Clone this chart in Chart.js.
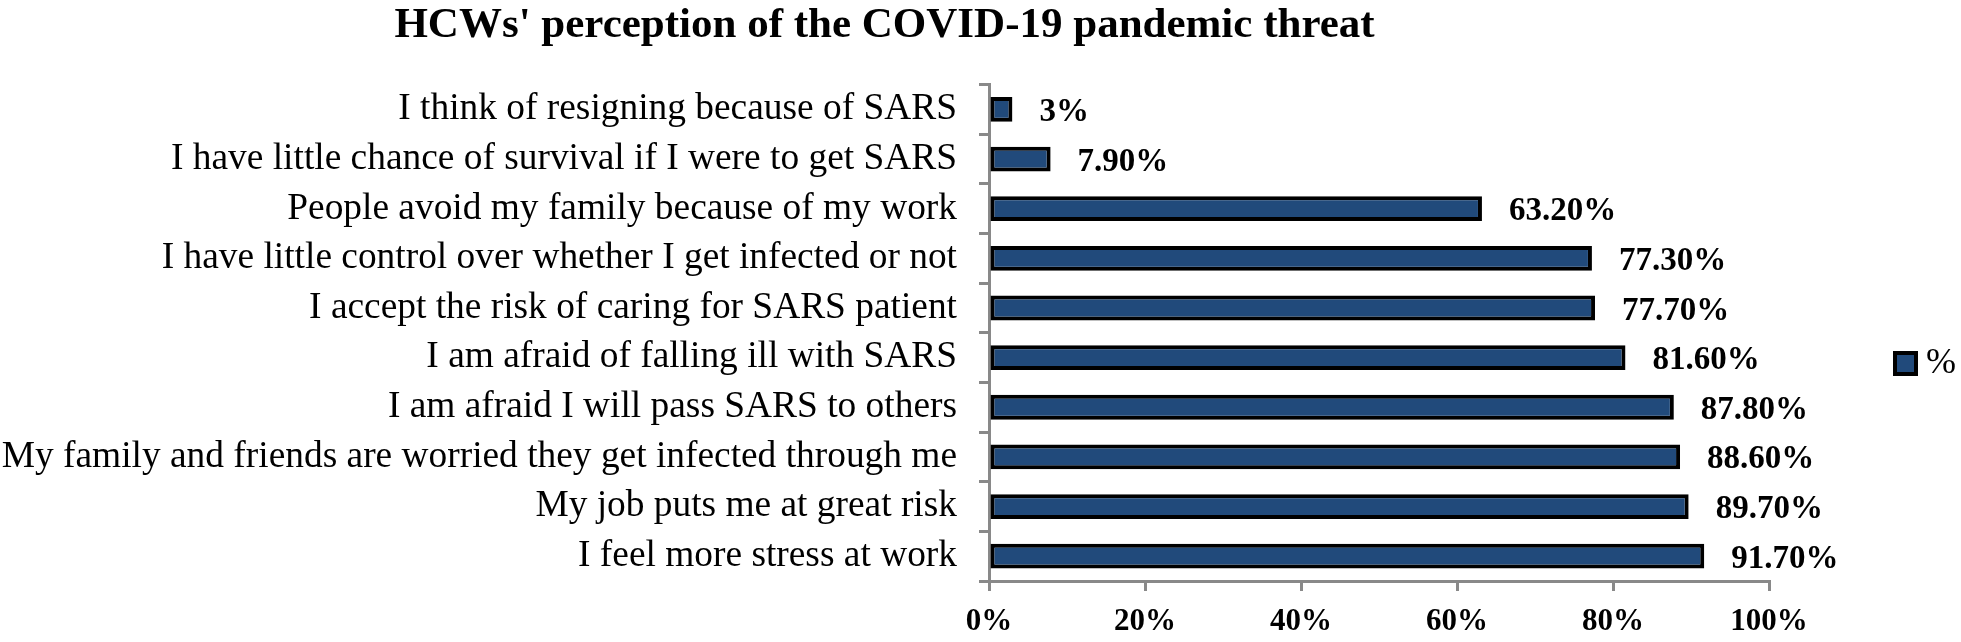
<!DOCTYPE html>
<html>
<head>
<meta charset="utf-8">
<script src="https://cdn.jsdelivr.net/npm/chart.js@4/dist/chart.umd.min.js"></script>
<style>
html,body{margin:0;padding:0;background:#fff;}
#wrap{width:1961px;height:642px;}
</style>
</head>
<body>
<div id="wrap"><canvas id="threatChart"></canvas></div>
<script>
// data
var categories = [
"I think of resigning because of SARS",
"I have little chance of survival if I were to get SARS",
"People avoid my family because of my work",
"I have little control over whether I get infected or not",
"I accept the risk of caring for SARS patient",
"I am afraid of falling ill with SARS",
"I am afraid I will pass SARS to others",
"My family and friends are worried they get infected through me",
"My job puts me at great risk",
"I feel more stress at work"
];
var percentValues = [3, 7.9, 63.2, 77.3, 77.7, 81.6, 87.8, 88.6, 89.7, 91.7];
var valueLabels = ["3%", "7.90%", "63.20%", "77.30%", "77.70%", "81.60%", "87.80%", "88.60%", "89.70%", "91.70%"];
var xTicks = [0, 20, 40, 60, 80, 100];
var seriesName = "%";

var serif = "'Liberation Serif', 'Times New Roman', serif";
var barBlue = "#214a7b";
var axisGray = "#898989";

// value labels to the right of each bar
var valueLabelPlugin = {
id: "valueLabels",
afterDatasetsDraw: function(chart) {
var ctx = chart.ctx;
var meta = chart.getDatasetMeta(0);
ctx.save();
ctx.font = "bold 33px " + serif;
ctx.fillStyle = "#000";
ctx.textAlign = "left";
ctx.textBaseline = "middle";
meta.data.forEach(function(bar, i) {
ctx.fillText(valueLabels[i], bar.x + 27, bar.y + 3);
});
ctx.restore();
}
};

// legend on the right, like the original
var sideLegendPlugin = {
id: "sideLegend",
afterDraw: function(chart) {
var ctx = chart.ctx;
ctx.save();
ctx.fillStyle = "#000";
ctx.fillRect(1893, 351, 25, 25);
ctx.fillStyle = barBlue;
ctx.fillRect(1897, 355, 17, 17);
ctx.font = "36px " + serif;
ctx.fillStyle = "#000";
ctx.textBaseline = "middle";
ctx.fillText(seriesName, 1926, 364);
ctx.restore();
}
};

new Chart(
document.getElementById("threatChart"),
{
type: "bar",
data: {
labels: categories,
datasets: [{
label: seriesName,
data: percentValues,
backgroundColor: barBlue,
borderColor: "#000",
borderWidth: 4,
borderSkipped: false,
categoryPercentage: 1,
barPercentage: 0.5
}]
},
options: {
indexAxis: "y",
responsive: true,
maintainAspectRatio: false,
animation: false,
layout: { padding: { left: 0, right: 192, top: 0, bottom: 0 } },
plugins: {
legend: { display: false },
tooltip: { enabled: false },
title: {
display: true,
text: "HCWs' perception of the COVID-19 pandemic threat",
color: "#000",
font: { family: serif, size: 43, weight: "bold" },
padding: { top: 0, bottom: 33 }
}
},
scales: {
x: {
min: 0,
max: 100,
afterBuildTicks: function(scale) {
scale.ticks = xTicks.map(function(v) { return { value: v }; });
},
afterFit: function(scale) { scale.height = 61; },
grid: {
drawOnChartArea: false,
drawTicks: true,
tickLength: 10,
color: axisGray,
lineWidth: 3
},
border: { color: axisGray, width: 3 },
ticks: {
color: "#000",
padding: 12,
font: { family: serif, size: 31, weight: "bold" },
callback: function(v) { return v + "%"; }
}
},
y: {
afterFit: function(scale) { scale.width = 989; },
grid: {
drawOnChartArea: false,
drawTicks: true,
tickLength: 10,
color: axisGray,
lineWidth: 3
},
border: { color: axisGray, width: 3 },
ticks: {
color: "#000",
padding: 22,
font: { family: serif, size: 37.4 }
}
}
}
},
plugins: [valueLabelPlugin, sideLegendPlugin]
});
</script>
</body>
</html>
